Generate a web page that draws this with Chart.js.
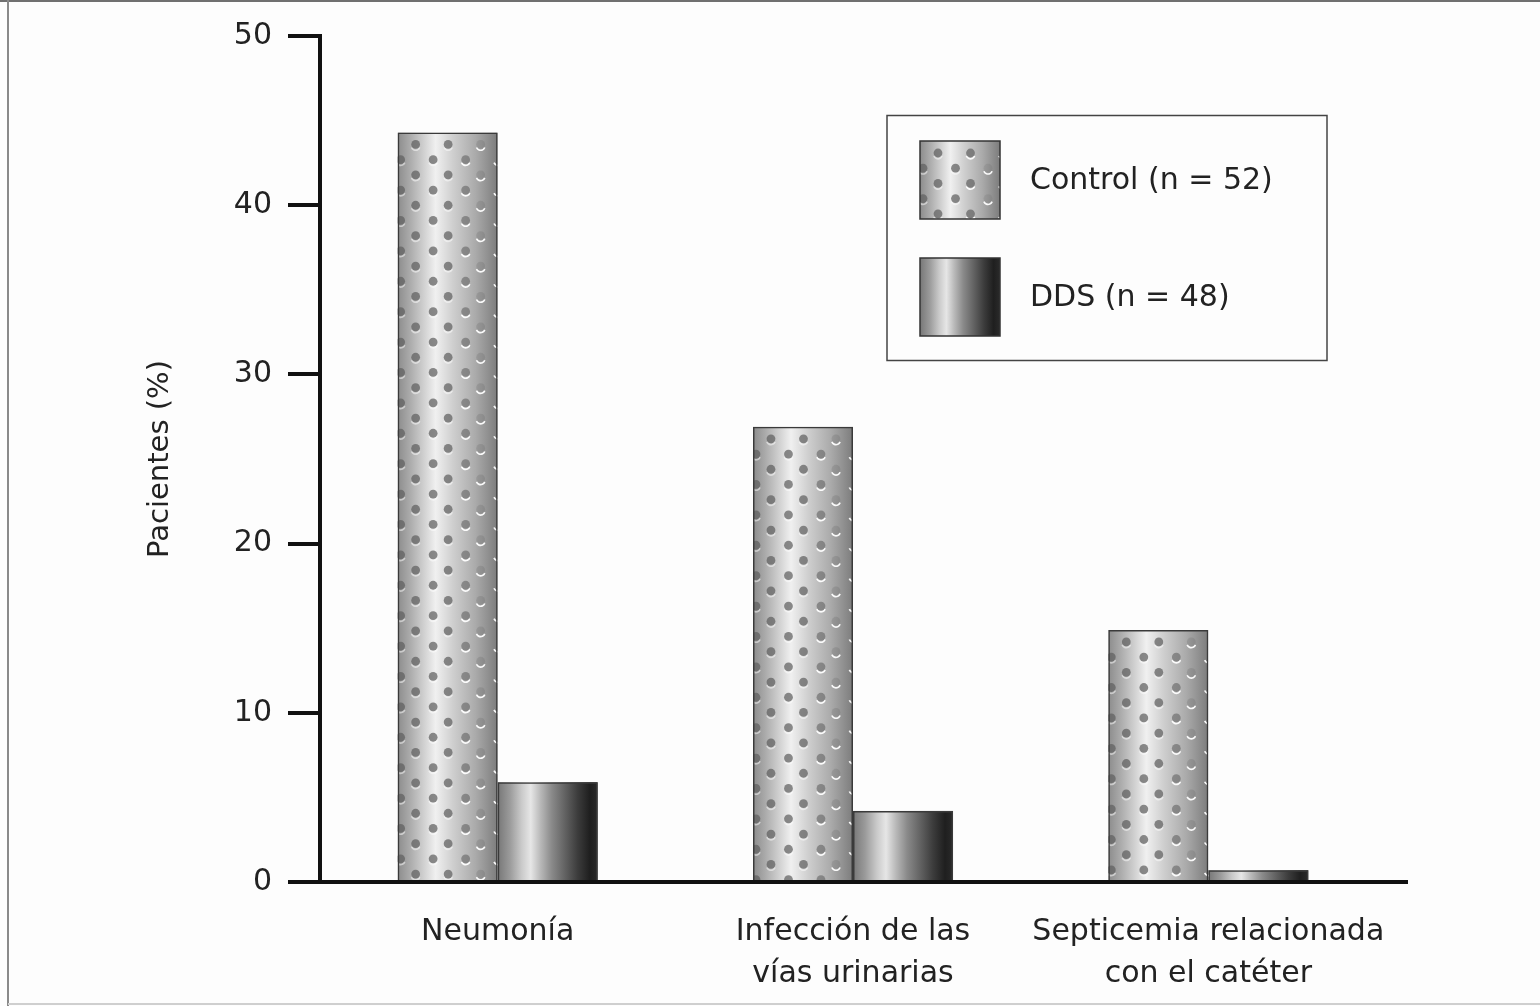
<!DOCTYPE html>
<html>
<head>
<meta charset="utf-8">
<script src="https://cdn.jsdelivr.net/npm/chart.js@4.4.1/dist/chart.umd.min.js"></script>
<style>
  html, body { margin: 0; padding: 0; background: #fdfdfd; }
  #wrap { position: relative; width: 1540px; height: 1006px; }
</style>
</head>
<body>
<div id="wrap"><canvas id="c"></canvas></div>
<script>
// Infection categories (multi-line labels) and the two patient groups
const categories = [["Neumonía"], ["Infección de las", "vías urinarias"], ["Septicemia relacionada", "con el catéter"]];
const seriesNames = ["Control (n = 52)", "DDS (n = 48)"];
const controlValues = [44.3, 26.9, 14.9];
const ddsValues = [5.9, 4.2, 0.7];
const yTicks = [0, 10, 20, 30, 40, 50];
const yTitle = "Pacientes (%)";

const FONT = "'DejaVu Sans', 'Liberation Sans', sans-serif";
const INK = '#222';

// Light metallic cylinder with a staggered dot texture
function controlFill(ctx, left, top, w, h) {
  const g = ctx.createLinearGradient(left, 0, left + w, 0);
  g.addColorStop(0, '#8c8c8c');
  g.addColorStop(0.12, '#aaaaaa');
  g.addColorStop(0.38, '#f0f0f0');
  g.addColorStop(0.55, '#cfcfcf');
  g.addColorStop(0.78, '#aaaaaa');
  g.addColorStop(1, '#7c7c7c');
  ctx.save();
  ctx.beginPath();
  ctx.rect(left, top, w, h);
  ctx.clip();
  ctx.fillStyle = g;
  ctx.fillRect(left, top, w, h);
  const rowH = 15.2, colW = 32.5;
  for (let r = 0; 12 + r * rowH - 6 < h; r++) {
    const cy = top + 12 + r * rowH;
    const start = r % 2 === 0 ? 18 : 3;
    for (let dx = start; dx < w + 6; dx += colW) {
      const cx = left + dx;
      const t = dx / w;
      ctx.beginPath();
      ctx.arc(cx, cy + 1.4, 4.4, 0.12 * Math.PI, 0.88 * Math.PI);
      ctx.strokeStyle = 'rgba(255,255,255,' + (t > 0.6 ? 0.95 : 0.5) + ')';
      ctx.lineWidth = 1.7;
      ctx.stroke();
      const a = t < 0.62 ? 0.72 : Math.max(0, 0.72 - (t - 0.62) * 2.4);
      ctx.beginPath();
      ctx.arc(cx, cy, 4.4, 0, Math.PI * 2);
      ctx.fillStyle = 'rgba(95,95,95,' + a + ')';
      ctx.fill();
    }
  }
  ctx.restore();
}

// Darker polished cylinder
function ddsFill(ctx, left, top, w, h) {
  const g = ctx.createLinearGradient(left, 0, left + w, 0);
  g.addColorStop(0, '#777777');
  g.addColorStop(0.12, '#9a9a9a');
  g.addColorStop(0.24, '#cacaca');
  g.addColorStop(0.33, '#e6e6e6');
  g.addColorStop(0.43, '#b8b8b8');
  g.addColorStop(0.54, '#8a8a8a');
  g.addColorStop(0.66, '#666666');
  g.addColorStop(0.8, '#3c3c3c');
  g.addColorStop(0.92, '#1f1f1f');
  g.addColorStop(1, '#2a2a2a');
  ctx.save();
  ctx.fillStyle = g;
  ctx.fillRect(left, top, w, h);
  ctx.restore();
}

const fills = [controlFill, ddsFill];

const barSkin = {
  id: 'barSkin',
  beforeDraw(chart) {
    const { ctx, width, height } = chart;
    ctx.save();
    ctx.fillStyle = '#fdfdfd';
    ctx.fillRect(0, 0, width, height);
    // page frame
    ctx.fillStyle = '#707070';
    ctx.fillRect(0, 0, width, 2);
    ctx.fillStyle = '#8a8a8a';
    ctx.fillRect(7, 0, 2, height);
    ctx.fillStyle = '#cfcfcf';
    ctx.fillRect(8, height - 3, width - 8, 2);
    ctx.restore();
  },
  beforeDatasetDraw(chart, args) {
    const fill = fills[args.index];
    const ctx = chart.ctx;
    args.meta.data.forEach(el => {
      const p = el.getProps(['x', 'y', 'base', 'width'], true);
      const left = p.x - p.width / 2;
      const top = Math.min(p.y, p.base);
      const h = Math.abs(p.base - p.y);
      fill(ctx, left, top, p.width, h);
    });
  },
  afterDatasetsDraw(chart) {
    const ctx = chart.ctx;
    const y0 = chart.scales.y.getPixelForValue(0);
    const area = chart.chartArea;
    // baseline extends past the plotting area on both sides
    ctx.save();
    ctx.strokeStyle = '#111';
    ctx.lineWidth = 4;
    ctx.beginPath();
    ctx.moveTo(area.left - 32, y0);
    ctx.lineTo(area.right + 22, y0);
    ctx.stroke();
    ctx.restore();
  },
  afterDraw(chart) {
    const ctx = chart.ctx;
    ctx.save();
    // legend box
    ctx.strokeStyle = '#444';
    ctx.lineWidth = 1.5;
    ctx.strokeRect(887, 115.5, 440, 245);
    const rows = [141, 258];
    chart.data.datasets.forEach((ds, i) => {
      const sx = 920, sy = rows[i], sw = 80, sh = 78;
      fills[i](ctx, sx, sy, sw, sh);
      ctx.strokeStyle = '#333';
      ctx.lineWidth = 1.5;
      ctx.strokeRect(sx, sy, sw, sh);
      ctx.fillStyle = INK;
      ctx.font = '30px ' + FONT;
      ctx.textAlign = 'left';
      ctx.textBaseline = 'middle';
      ctx.fillText(ds.label, 1030, sy + sh / 2 + 1);
    });
    ctx.restore();
  }
};

const barStyle = {
  backgroundColor: 'rgba(0,0,0,0)',
  borderColor: '#3a3a3a',
  borderWidth: 1.5,
  categoryPercentage: 0.563,
  barPercentage: 1
};

new Chart(document.getElementById('c'), {
  type: 'bar',
  data: {
    labels: categories,
    datasets: [
      Object.assign({ label: seriesNames[0], data: controlValues }, barStyle),
      Object.assign({ label: seriesNames[1], data: ddsValues }, barStyle)
    ]
  },
  options: {
    responsive: true,
    maintainAspectRatio: false,
    animation: false,
    events: [],
    layout: { padding: { top: 36, right: 154, left: 0, bottom: 0 } },
    plugins: {
      colors: { enabled: false },
      legend: { display: false },
      tooltip: { enabled: false },
      title: { display: false }
    },
    scales: {
      x: {
        offset: true,
        grid: { display: false, drawTicks: false },
        border: { display: false },
        ticks: {
          color: INK,
          font: { family: FONT, size: 30, lineHeight: 1.4 },
          padding: 29,
          maxRotation: 0,
          minRotation: 0,
          autoSkip: false
        },
        afterFit(scale) { scale.height = 124; }
      },
      y: {
        min: 0,
        max: 50,
        afterBuildTicks(scale) { scale.ticks = yTicks.map(v => ({ value: v })); },
        grid: {
          display: true,
          drawOnChartArea: false,
          drawTicks: true,
          tickLength: 32,
          lineWidth: 4,
          color: '#111'
        },
        border: { display: true, width: 4, color: '#111' },
        ticks: {
          color: INK,
          font: { family: FONT, size: 30 },
          padding: 16
        },
        title: {
          display: true,
          text: yTitle,
          color: INK,
          font: { family: FONT, size: 29, lineHeight: 1.2 },
          padding: { top: 143, bottom: 0 }
        },
        afterFit(scale) { scale.width = 320; }
      }
    }
  },
  plugins: [barSkin]
});
</script>
</body>
</html>
